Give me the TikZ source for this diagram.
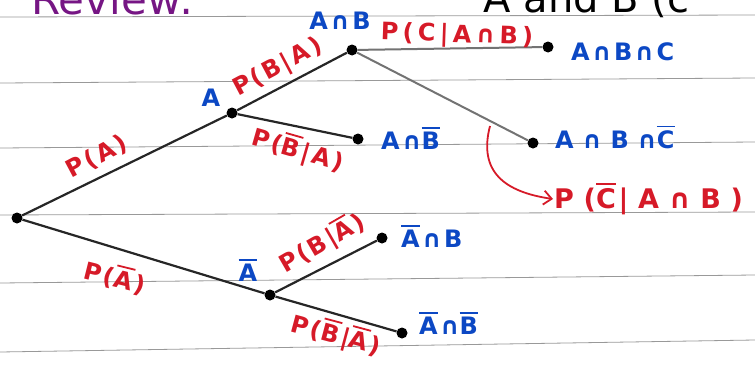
\documentclass[tikz,border=0pt]{standalone}
\usepackage{fontspec}
\setmainfont{DejaVu Sans}[LetterSpace=10]
\newfontfamily\wide{DejaVu Sans}[LetterSpace=36]
\newfontfamily\loose{DejaVu Sans}[LetterSpace=18]
\newfontfamily\tight{DejaVu Sans}
\usetikzlibrary{arrows.meta}

\definecolor{inkred}{RGB}{214,26,40}
\definecolor{inkblue}{RGB}{12,72,196}
\definecolor{inkpurple}{RGB}{118,22,132}
% letter with a bar over it (the complement)
\newcommand{\nt}[1]{{\setbox0=\hbox{\tight #1}%
  \rlap{\rule[\dimexpr\ht0+3pt\relax]{\wd0}{1.8pt}}\box0\hspace{0.1em}}}

\tikzset{
  dot/.style={circle, fill=black, inner sep=0pt, minimum size=11pt},
  event/.style={text=inkblue, font=\fontsize{24}{26}\selectfont\bfseries, inner sep=1pt},
  prob/.style={text=inkred, font=\fontsize{24}{26}\selectfont\bfseries, inner sep=1pt},
  branch/.style={draw=black!85, line width=2.2pt},
  faint/.style={draw=black!55, line width=2pt},
  note/.style={draw=inkred, line width=1.8pt, -{Straight Barb[length=8pt, width=14pt]}},
}

\begin{document}
\begin{tikzpicture}[x=1pt, y=-1pt]
  \useasboundingbox (0,0) rectangle (755,367);
  \clip (0,0) rectangle (755,367);

  % ---- ruled paper ----
  \foreach \yl/\yr in {17/15, 83/78, 148/142, 215/212, 283/275, 352/340}{%
    \draw[black!40, line width=0.8pt] (0,\yl) -- (755,\yr);
  }

  % ---- page heading (cut off at the top) ----
  \node[text=inkpurple, font=\fontsize{42}{42}\selectfont\tight, anchor=base west]
    (review) at (28,14) {Review:};
  \node[font=\fontsize{40}{40}\selectfont\tight, anchor=base west]
    (heading) at (480,12) {A and B (c};

  % ---- tree points ----
  \foreach \n/\x/\y in {%
    root/17/218, a/232/113, ab/352/50, abc/548/47, abnc/533/143,%
    anb/358/139, na/270/295, nab/382/238, nanb/402/333}{%
    \node[dot] (\n) at (\x,\y) {};
  }

  % ---- branches ----
  \foreach \s/\t in {root/a, root/na, a/ab, a/anb, na/nab, na/nanb}{%
    \draw[branch] (\s) -- (\t);
  }
  \draw[faint] (ab) -- (abc);
  \draw[faint] (ab) -- (abnc);

  % ---- events (blue) ----
  \node[event] (la) at (211,98) {A};
  \node[event] (lab) at (340,21) {A∩B};
  \node[event, anchor=west] (labc) at (570,52) {A∩B∩C};
  \node[event, anchor=west] (labnc) at (554,137) {\wide A∩B∩\nt{C}};
  \node[event, anchor=west] (lanb) at (380,138) {A∩\nt{B}};
  \node[event] (lna) at (248,270) {\nt{A}};
  \node[event, anchor=west] (lnab) at (400,236) {\nt{A}∩B};
  \node[event, anchor=west] (lnanb) at (418,323) {\nt{A}∩\nt{B}};

  % ---- probabilities (red) ----
  \node[prob, rotate=28] (pa) at (97,157) {P(A)};
  \node[prob, rotate=-14] (pna) at (115,277) {P(\nt{A})};
  \node[prob, rotate=28] (pba) at (278,68) {P(B|A)};
  \node[prob, rotate=-16] (pnba) at (298,150) {P(\nt{B}|A)};
  \node[prob, rotate=-2, font=\fontsize{24}{26}\selectfont\bfseries\loose]
    (pcab) at (457,36) {P(C|A∩B)};
  \node[prob, rotate=30] (pbna) at (322,243) {P(B|\nt{A})};
  \node[prob, rotate=-15] (pnbna) at (336,335) {P(\nt{B}|\nt{A})};

  % ---- note for the lower branch from A∩B ----
  \coordinate (cbar) at (490,126);
  \node[prob, font=\fontsize{27}{29}\selectfont\bfseries\wide, anchor=west]
    (pncab) at (553,199) {P(\nt{C}|A∩B)};
  \draw[note] (cbar) .. controls (478,172) and (505,192) .. (pncab.west);
\end{tikzpicture}
\end{document}
